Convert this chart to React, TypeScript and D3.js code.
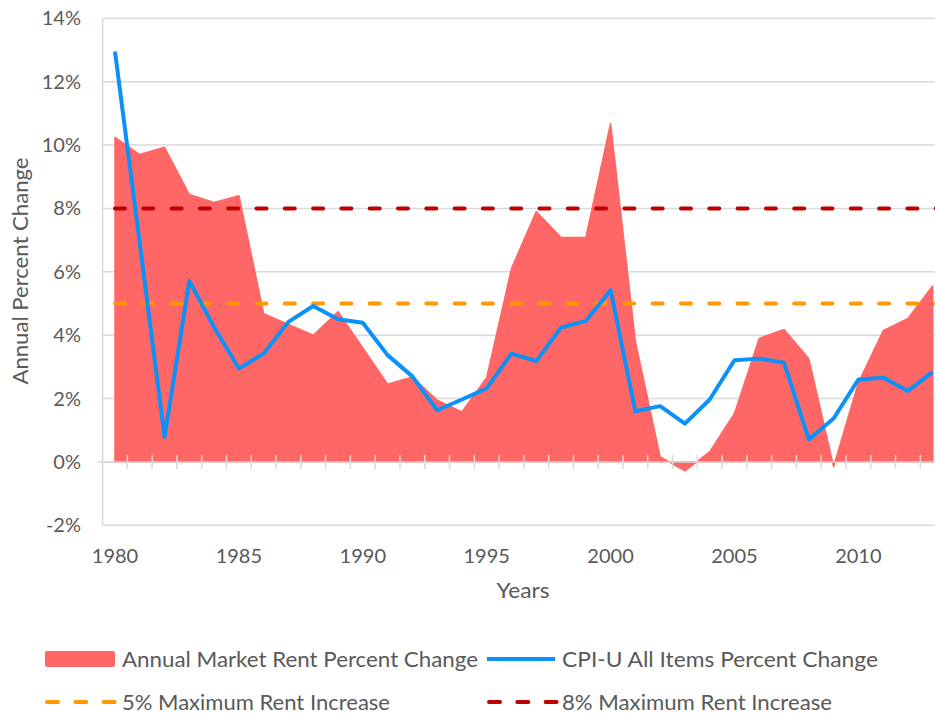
import React from "react";
import * as d3 from "d3";

const WIDTH = 935;
const HEIGHT = 715;

const years = d3.range(1980, 2014);
const rentChange = [
  10.24, 9.7, 9.93, 8.44, 8.19, 8.4, 4.68, 4.34, 4.0, 4.74,
  3.6, 2.45, 2.68, 1.95, 1.58, 2.66, 6.1, 7.9, 7.08, 7.08,
  10.68, 3.8, 0.16, -0.28, 0.32, 1.53, 3.9, 4.18, 3.26, -0.15,
  2.5, 4.14, 4.53, 5.55,
];
const cpiChange = [
  12.95, 6.9, 0.79, 5.71, 4.25, 2.95, 3.42, 4.42, 4.92, 4.5,
  4.39, 3.37, 2.7, 1.63, 1.97, 2.32, 3.42, 3.18, 4.24, 4.45,
  5.42, 1.6, 1.76, 1.21, 1.97, 3.21, 3.26, 3.13, 0.71, 1.37,
  2.6, 2.66, 2.24, 2.84,
];
const yTicks = [-2, 0, 2, 4, 6, 8, 10, 12, 14];
const xLabels = [1980, 1985, 1990, 1995, 2000, 2005, 2010];
const caps = [
  { value: 5, label: "5% Maximum Rent Increase", color: "#ff9900" },
  { value: 8, label: "8% Maximum Rent Increase", color: "#c00000" },
];

const FONT = "Lato, 'Open Sans', sans-serif";
const TEXT = "#595959";
const GRID = "#d9d9d9";
const RENT = "#ff6666";
const CPI = "#0b92f8";

export default function App() {
  // category axis: one band per year, marks at the band centres
  const x = d3.scaleBand<number>().domain(years).range([102.6, 945.1]);
  const cx = (yr: number) => (x(yr) as number) + x.bandwidth() / 2;
  const y = d3.scaleLinear().domain([-2, 14]).range([525.3, 18.3]);

  const rows = years.map((yr, i) => ({ yr, rent: rentChange[i], cpi: cpiChange[i] }));

  const area = d3
    .area<{ yr: number; rent: number }>()
    .x((d) => cx(d.yr))
    .y0(y(0))
    .y1((d) => y(d.rent));
  const line = d3
    .line<{ yr: number; cpi: number }>()
    .x((d) => cx(d.yr))
    .y((d) => y(d.cpi));

  const x0 = x.range()[0];
  const x1 = x.range()[1];

  return (
    <svg
      width={WIDTH}
      height={HEIGHT}
      style={{ position: "absolute", left: 0, top: 0, background: "#fff" }}
      fontFamily={FONT}
    >
      {/* gridlines */}
      {yTicks.map((t) => (
        <line key={t} x1={x0} x2={x1} y1={y(t)} y2={y(t)} stroke={GRID} strokeWidth={1.5} />
      ))}
      <line x1={x0} x2={x0} y1={y(14)} y2={y(-2)} stroke={GRID} strokeWidth={1.5} />

      {/* rent area */}
      <path d={area(rows) ?? ""} fill={RENT} stroke={RENT} strokeWidth={1.5} strokeLinejoin="round" />

      {/* x axis at zero with ticks between years */}
      <line x1={x0 - 5} x2={x1} y1={y(0)} y2={y(0)} stroke={GRID} strokeWidth={1.5} />
      {years.slice(1).map((yr) => (
        <line
          key={yr}
          x1={x(yr)}
          x2={x(yr)}
          y1={y(0) - 7}
          y2={y(0) + 7}
          stroke={GRID}
          strokeWidth={1.5}
        />
      ))}

      {/* rent-cap reference lines */}
      {caps.map((c) => (
        <line
          key={c.value}
          x1={cx(1980)}
          x2={x1}
          y1={y(c.value)}
          y2={y(c.value)}
          stroke={c.color}
          strokeWidth={4}
          strokeDasharray="10 18.3"
          strokeLinecap="round"
        />
      ))}

      {/* CPI line */}
      <path d={line(rows) ?? ""} fill="none" stroke={CPI} strokeWidth={4} strokeLinejoin="round" />

      {/* y tick labels */}
      {yTicks.map((t) => (
        <text key={t} x={81} y={y(t) + 7} textAnchor="end" fontSize={20} fill={TEXT}>
          {`${t}%`}
        </text>
      ))}
      {/* x tick labels */}
      {xLabels.map((yr) => (
        <text key={yr} x={cx(yr)} y={563} textAnchor="middle" fontSize={20} fill={TEXT}>
          {yr}
        </text>
      ))}

      <text x={523} y={598} textAnchor="middle" fontSize={21} fill={TEXT} textLength={53} lengthAdjust="spacingAndGlyphs">
        Years
      </text>
      <text
        transform="translate(28, 271) rotate(-90)"
        textAnchor="middle"
        fontSize={21}
        fill={TEXT}
        textLength={227}
        lengthAdjust="spacingAndGlyphs"
      >
        Annual Percent Change
      </text>

      {/* legend */}
      <rect x={45} y={651} width={70} height={16} rx={2} fill={RENT} />
      <text x={122} y={667} fontSize={21} fill={TEXT} textLength={356} lengthAdjust="spacingAndGlyphs">
        Annual Market Rent Percent Change
      </text>
      <line x1={487} x2={555} y1={659} y2={659} stroke={CPI} strokeWidth={4} />
      <text x={562} y={667} fontSize={21} fill={TEXT} textLength={316} lengthAdjust="spacingAndGlyphs">
        CPI-U All Items Percent Change
      </text>
      {caps.map((c, i) => (
        <g key={c.label}>
          <line
            x1={i === 0 ? 47 : 489}
            x2={i === 0 ? 115 : 557}
            y1={702}
            y2={702}
            stroke={c.color}
            strokeWidth={4}
            strokeDasharray="11 17.3"
            strokeLinecap="round"
          />
          <text
            x={i === 0 ? 122 : 562}
            y={710}
            fontSize={21}
            fill={TEXT}
            textLength={i === 0 ? 268 : 270}
            lengthAdjust="spacingAndGlyphs"
          >
            {c.label}
          </text>
        </g>
      ))}
    </svg>
  );
}
